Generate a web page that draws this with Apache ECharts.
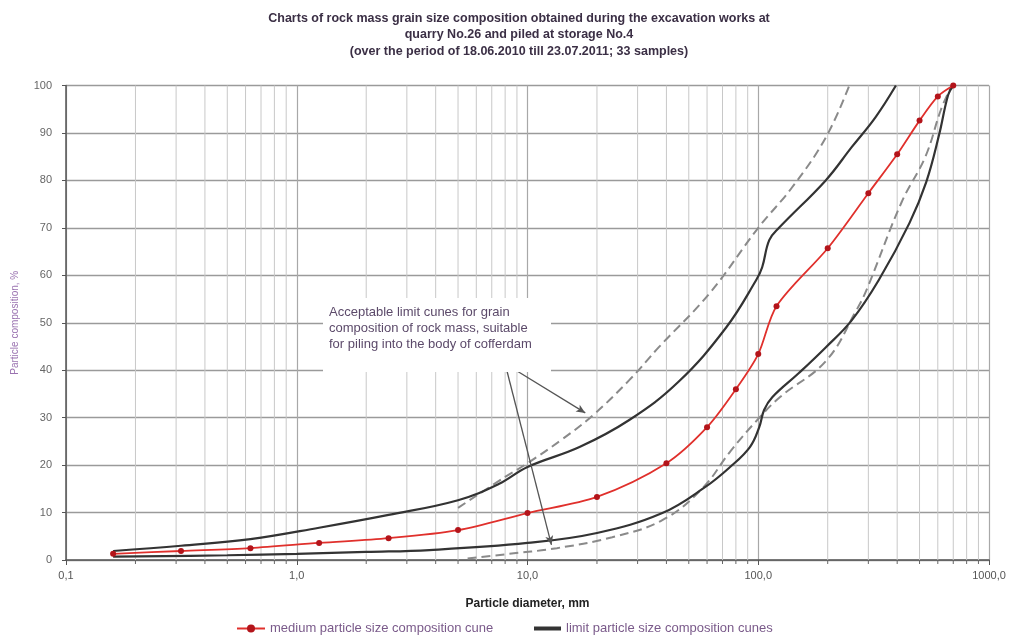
<!DOCTYPE html>
<html><head><meta charset="utf-8">
<script src="https://cdn.jsdelivr.net/npm/echarts@6/dist/echarts.min.js"></script>
<style>html,body{margin:0;padding:0;background:#fff}#c{width:1012px;height:642px}</style>
</head><body><div id="c"></div>
<script>
// medium particle size composition curve
const medX = [0.16,0.315,0.63,1.25,2.5,5,10,20,40,60,80,100,120,200,300,400,500,600,700];
const medY = [1.3,1.9,2.5,3.6,4.6,6.3,9.9,13.3,20.4,28,36,43.4,53.5,65.7,77.3,85.5,92.6,97.7,100];
// upper limit curve (solid)
const upX = [0.16,0.315,0.63,1.25,2.5,5,7.5,10,16.8,27.6,45,72.6,98,104,111.6,123,196,254,322,395];
const upY = [1.9,3.0,4.4,6.8,9.5,12.6,16,19.6,23.8,29.5,37.5,49,59,61.7,67.4,70,80,87,93.3,100];
// lower limit curve (solid)
const loX = [0.16,0.5,1,2,3.76,10,20,38.4,59,75.5,92,101,106,115,150,196,254,333,452,534,607,665,700];
const loY = [0.7,1.0,1.3,1.7,2.1,3.6,5.7,9.9,15.4,19.6,23.8,28,31.6,34.3,39.4,44.8,50.5,59,71,79.6,89.5,98,100];
// acceptable limit curves (dashed)
const udX = [5,8,10,14,19,27.6,37,61.5,100,140,196,248];
const udY = [11,17.5,20.4,25.3,30.3,37.9,44.8,56.2,70,78.5,89,100];
const ldX = [5.5,8,13.4,23.3,38.4,57,76,99,124,197,266,295,418,530,620,690];
const ldY = [0.3,1.2,2.5,4.8,8.4,15,23,29.5,34.3,42,52.6,57,75.4,85,95,100];
// annotation arrows [start, end] in data units
const arrowA = [[8.1,40.3],[12.7,3.2]];
const arrowB = [[8.9,40.0],[17.8,31]];

const titleText = 'Charts of rock mass grain size composition obtained during the excavation works at\nquarry No.26 and piled at storage No.4\n(over the period of 18.06.2010 till 23.07.2011; 33 samples)';
const noteText = 'Acceptable limit cunes for grain\ncomposition of rock mass, suitable\nfor piling into the body of cofferdam';
const medName = 'medium particle size composition cune';
const limName = 'limit particle size composition cunes';

const decades = [0.1,1,10,100];
const minorTicks = [];
decades.forEach(d => { for (let k = 2; k <= 9; k++) minorTicks.push([+(k*d).toPrecision(3), 0]); });

const zip = (xs, ys) => xs.map((x,i) => [x, ys[i]]);
const FONT = 'Liberation Sans, Arial, sans-serif';
const legendText = {fontSize: 13, color: '#7a5a8a', fontFamily: FONT};

const chart = echarts.init(document.getElementById('c'));
chart.setOption({
  animation: false,
  textStyle: {fontFamily: FONT},
  title: {
    text: titleText, left: 514, top: 5, textAlign: 'center',
    textStyle: {fontSize: 12.5, fontWeight: 'bold', lineHeight: 16.5, color: '#3b2f45', fontFamily: FONT}
  },
  grid: {left: 66, right: 23, top: 85.5, bottom: 82, containLabel: false},
  legend: [
    {left: 236, top: 622, padding: 0, itemWidth: 28, itemHeight: 10,
     data: [medName], textStyle: legendText},
    {left: 534, top: 622, padding: 0, itemWidth: 27, itemHeight: 4,
     data: [{name: limName, icon: 'rect'}], textStyle: legendText}
  ],
  xAxis: {
    type: 'log', logBase: 10, min: 0.1, max: 1000,
    name: 'Particle diameter, mm', nameLocation: 'middle', nameGap: 38,
    nameTextStyle: {fontSize: 12, fontWeight: 'bold', color: '#222'},
    axisLine: {lineStyle: {color: '#555', width: 1.5}},
    axisTick: {show: true, length: 5, lineStyle: {color: '#555'}},
    axisLabel: {fontSize: 11, color: '#555', margin: 10, formatter: v => v.toFixed(1).replace('.', ',')},
    splitLine: {show: true, lineStyle: {color: '#a8a8a8', width: 1.2}}
  },
  yAxis: {
    type: 'value', min: 0, max: 100, interval: 10,
    name: 'Particle composition, %', nameLocation: 'middle', nameGap: 46, nameRotate: 90,
    nameTextStyle: {fontSize: 10, color: '#9a72b0'},
    axisLine: {show: true, lineStyle: {color: '#555', width: 1.5}},
    axisTick: {show: true, length: 4, lineStyle: {color: '#555'}},
    axisLabel: {fontSize: 11, color: '#666', margin: 14},
    splitLine: {show: true, lineStyle: {color: '#9a9a9a', width: 1.3}}
  },
  graphic: [
    {type: 'rect', left: 323, top: 298, z: 100, shape: {width: 228, height: 74}, style: {fill: '#fff'}},
    {type: 'text', left: 329, top: 304, z: 101,
     style: {text: noteText, fontSize: 13, lineHeight: 16, fill: '#5c4a6a', fontFamily: FONT}}
  ],
  series: [
    {
      type: 'custom', z: 1, silent: true, data: minorTicks,
      encode: {x: 0, y: 1},
      renderItem: function (params, api) {
        const v = api.value(0);
        const top = api.coord([v, 100]);
        const bot = api.coord([v, 0]);
        return {type: 'group', children: [
          {type: 'line', shape: {x1: top[0], y1: top[1], x2: bot[0], y2: bot[1]}, style: {stroke: '#c8c8c8', lineWidth: 1}},
          {type: 'line', shape: {x1: bot[0], y1: bot[1], x2: bot[0], y2: bot[1] + 4}, style: {stroke: '#666', lineWidth: 1}}
        ]};
      }
    },
    {
      name: 'acceptable', type: 'line', data: zip(udX, udY), smooth: 0.4, symbol: 'none',
      lineStyle: {color: '#8a8a8a', width: 2, type: [9, 5]}, z: 3
    },
    {
      name: 'acceptable', type: 'line', data: zip(ldX, ldY), smooth: 0.4, symbol: 'none',
      lineStyle: {color: '#8a8a8a', width: 2, type: [9, 5]}, z: 3,
      markLine: {
        silent: true, symbol: ['none', 'arrow'], symbolSize: [6, 9], z: 50,
        label: {show: false},
        lineStyle: {color: '#555', width: 1.3, type: 'solid'},
        data: [
          [{coord: arrowA[0]}, {coord: arrowA[1]}],
          [{coord: arrowB[0]}, {coord: arrowB[1]}]
        ]
      }
    },
    {
      name: limName, type: 'line', data: zip(upX, upY), smooth: 0.4, symbol: 'none',
      lineStyle: {color: '#333', width: 2.2}, itemStyle: {color: '#333'}, z: 4
    },
    {
      name: limName, type: 'line', data: zip(loX, loY), smooth: 0.4, symbol: 'none',
      lineStyle: {color: '#333', width: 2.2}, itemStyle: {color: '#333'}, z: 4
    },
    {
      name: medName, type: 'line', data: zip(medX, medY), smooth: 0.3,
      symbol: 'circle', symbolSize: 6,
      lineStyle: {color: '#e0302c', width: 1.8}, itemStyle: {color: '#b3141a'}, z: 5
    }
  ]
});
</script>
</body></html>
